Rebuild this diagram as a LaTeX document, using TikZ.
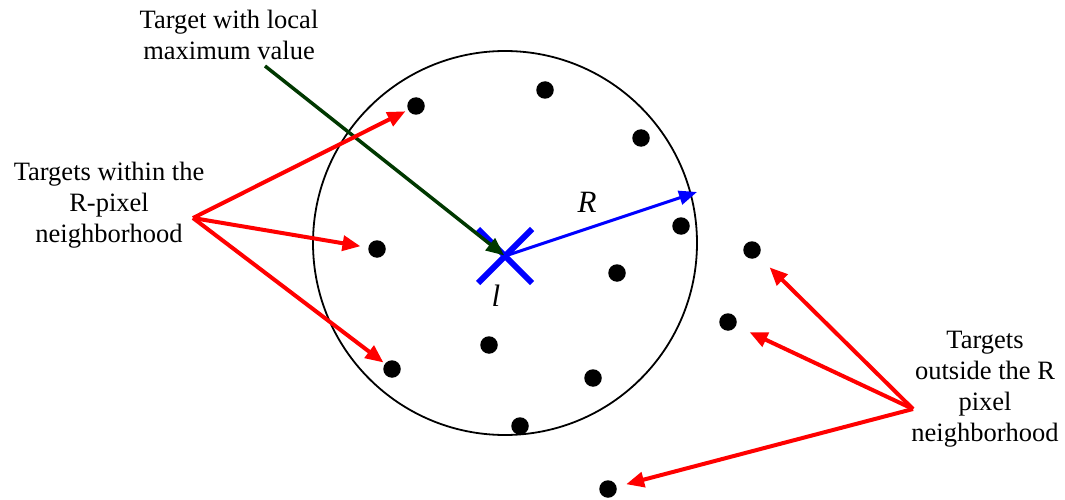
\documentclass[tikz,border=0pt]{standalone}
\usepackage{fontspec}
\setmainfont{Liberation Serif}
\usetikzlibrary{arrows.meta,shapes.misc}
\definecolor{darkgreen}{RGB}{0,56,0}
\begin{document}
\begin{tikzpicture}[x=1pt,y=-1pt,
  dot/.style={circle,fill=black,minimum size=17.5pt,inner sep=0pt,outer sep=0pt},
  lbl/.style={align=center,font=\fontsize{26.5}{31}\selectfont,inner sep=0pt,anchor=north},
  sym/.style={font=\fontsize{31}{34}\selectfont\itshape,inner sep=0pt},
  redarrow/.style={draw=red,line width=4pt,-{Triangle[length=18pt,width=15pt]}},
  greenarrow/.style={draw=darkgreen,line width=3.5pt,-{Triangle[length=18pt,width=15pt]}},
  bluearrow/.style={draw=blue,line width=3pt,-{Triangle[length=18pt,width=14pt]}},
  ring/.style={draw=black,line width=1.8pt}
]
\useasboundingbox (0,0) rectangle (1065,500);

% neighbourhood circle
\node[ring,circle,minimum size=384pt,inner sep=0pt] (circ) at (505,243) {};

% labels
\node[lbl] (top) at (229,10) {Target with local\\maximum value};
\node[lbl] (left) at (109,162) {Targets within the\\R-pixel\\neighborhood};
\node[lbl] (right) at (985,330.5) {Targets\\outside the R\\pixel\\neighborhood};

% dots inside
\node[dot] (d1) at (416,106) {};
\node[dot] (d2) at (545,90) {};
\node[dot] (d3) at (641,138) {};
\node[dot] (d4) at (681,226) {};
\node[dot] (d5) at (377,249) {};
\node[dot] (d6) at (617,273) {};
\node[dot] (d7) at (489,345) {};
\node[dot] (d8) at (392,369) {};
\node[dot] (d9) at (593,378) {};
\node[dot] (d10) at (520,426) {};
% dots outside
\node[dot] (e1) at (752,250) {};
\node[dot] (e2) at (728,322) {};
\node[dot] (e3) at (608,489) {};

% local maximum cross
\node[cross out,draw=blue,line width=6pt,minimum width=48pt,minimum height=48pt,inner sep=0pt] (cross) at (505,256) {};
\node[sym] (lsym) at (496,296) {l};
\node[sym] (Rsym) at (587,202) {R};

% arrow sources / free ends
\coordinate (srcL) at (193,218);
\coordinate (srcR) at (913,409);
\coordinate (srcG) at (265,66);
\coordinate (rim) at (697,192);

% arrows
\draw[greenarrow,shorten >=1pt] (srcG) -- (cross.center);
\draw[bluearrow] (cross.center) -- (rim);
\draw[redarrow,shorten >=3pt] (srcL) -- (d1);
\draw[redarrow,shorten >=8pt] (srcL) -- (d5);
\draw[redarrow,shorten >=2pt] (srcL) -- (d8);
\draw[redarrow,shorten >=16pt] (srcR) -- (e1);
\draw[redarrow,shorten >=15pt] (srcR) -- (e2);
\draw[redarrow,shorten >=10pt] (srcR) -- (e3);
\end{tikzpicture}
\end{document}
